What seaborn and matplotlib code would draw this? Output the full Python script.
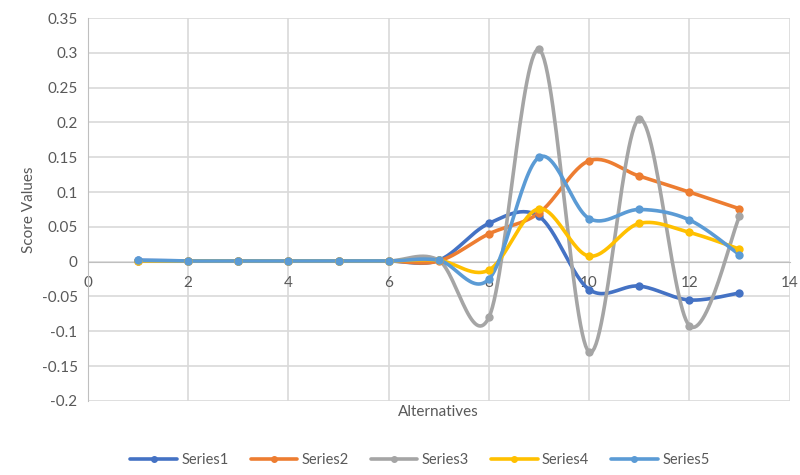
import numpy as np
import pandas as pd
import matplotlib
matplotlib.use("Agg")
import matplotlib.pyplot as plt
from matplotlib.lines import Line2D
import seaborn as sns

alternatives = [1, 2, 3, 4, 5, 6, 7, 8, 9, 10, 11, 12, 13]
series1 = [0.002, 0.001, 0.001, 0.001, 0.001, 0.001, 0.002, 0.055, 0.065, -0.040, -0.035, -0.055, -0.045]
series2 = [0.001, 0.001, 0.001, 0.001, 0.001, 0.001, 0.001, 0.040, 0.070, 0.145, 0.123, 0.100, 0.076]
series3 = [0.001, 0.001, 0.001, 0.001, 0.001, 0.001, 0.002, -0.080, 0.305, -0.130, 0.205, -0.092, 0.065]
series4 = [0.001, 0.001, 0.001, 0.001, 0.001, 0.001, 0.002, -0.012, 0.076, 0.008, 0.055, 0.042, 0.018]
series5 = [0.002, 0.001, 0.001, 0.001, 0.001, 0.001, 0.002, -0.025, 0.150, 0.062, 0.075, 0.060, 0.010]
names = ["Series1", "Series2", "Series3", "Series4", "Series5"]
colors = ["#4472C4", "#ED7D31", "#A5A5A5", "#FFC000", "#5B9BD5"]
y_ticks = [-0.2, -0.15, -0.1, -0.05, 0, 0.05, 0.1, 0.15, 0.2, 0.25, 0.3, 0.35]


def smooth(x, y, n=30):
    # Excel-style smoothed line (Catmull-Rom via cubic Bezier)
    x = np.asarray(x, float)
    y = np.asarray(y, float)
    px = np.concatenate([[x[0]], x, [x[-1]]])
    py = np.concatenate([[y[0]], y, [y[-1]]])
    t = np.linspace(0, 1, n)[:, None]
    out_x, out_y = [], []
    for i in range(1, len(px) - 2):
        p0 = np.array([px[i], py[i]])
        p3 = np.array([px[i + 1], py[i + 1]])
        p1 = p0 + (np.array([px[i + 1], py[i + 1]]) - np.array([px[i - 1], py[i - 1]])) / 6
        p2 = p3 - (np.array([px[i + 2], py[i + 2]]) - np.array([px[i], py[i]])) / 6
        b = ((1 - t) ** 3) * p0 + 3 * ((1 - t) ** 2) * t * p1 + 3 * (1 - t) * t ** 2 * p2 + t ** 3 * p3
        out_x.extend(b[:, 0])
        out_y.extend(b[:, 1])
    return np.array(out_x), np.array(out_y)


sns.set_style("white")
plt.rcParams["font.family"] = ["Lato", "DejaVu Sans"]

fig = plt.figure(figsize=(8, 4.75), dpi=100)
ax = fig.add_axes([0.11, 0.156, 0.877, 0.806])

data = [series1, series2, series3, series4, series5]
handles = []
for name, vals, c in zip(names, data, colors):
    sx, sy = smooth(alternatives, vals)
    curve = pd.DataFrame({"x": sx, "y": sy})
    sns.lineplot(data=curve, x="x", y="y", ax=ax, color=c, linewidth=2.6,
                 sort=False, estimator=None, zorder=3)
    pts = pd.DataFrame({"x": alternatives, "y": vals})
    sns.scatterplot(data=pts, x="x", y="y", ax=ax, color=c, s=36,
                    edgecolor=c, linewidth=0, zorder=4)
    handles.append(Line2D([0], [0], color=c, lw=2.6, marker="o", markersize=4, label=name))

ax.set_xlim(0, 14)
ax.set_ylim(-0.2, 0.35)
ax.set_xticks(np.arange(0, 15, 2))
ax.set_yticks(y_ticks)
ax.set_yticklabels([f"{v:g}" for v in y_ticks])
ax.grid(True, color="#D9D9D9", linewidth=1.2)
ax.set_axisbelow(True)

for s in ["top", "right"]:
    ax.spines[s].set_visible(False)
ax.spines["bottom"].set_position(("data", 0))
ax.spines["bottom"].set_color("#BFBFBF")
ax.spines["left"].set_color("#BFBFBF")
ax.tick_params(axis="both", colors="#595959", labelsize=11, length=4, width=1)
ax.tick_params(axis="x", color="#BFBFBF", pad=6)
ax.tick_params(axis="y", color="#BFBFBF")

ax.set_xlabel("")
ax.set_ylabel("Score Values", color="#595959", fontsize=11)
fig.text(0.548, 0.125, "Alternatives", color="#595959", fontsize=11, ha="center")

fig.legend(handles=handles, loc="lower center", bbox_to_anchor=(0.525, -0.01), ncol=5,
           frameon=False, fontsize=10.5, labelcolor="#595959", handlelength=3.2,
           columnspacing=1.5, handletextpad=0.3)

fig.savefig("out.png", dpi=100)
